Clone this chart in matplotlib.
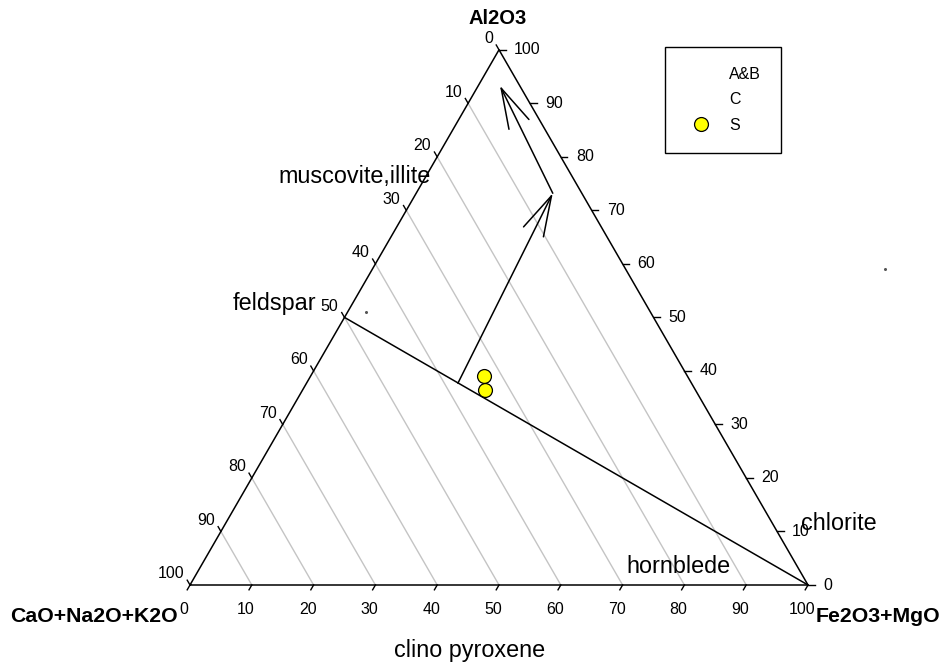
import numpy as np
import matplotlib.pyplot as plt
from matplotlib.lines import Line2D

plt.rcParams['font.family'] = ['Liberation Sans', 'DejaVu Sans']

# 三元图数据 (CaO+Na2O+K2O, Fe2O3+MgO, Al2O3)
tick_vals = np.arange(0, 101, 10)

s_cao = [33.0, 34.0]
s_fe = [28.0, 29.5]
s_al = [39.0, 36.5]

ab_cao = [46.0]
ab_fe = [3.0]
ab_al = [51.0]

c_cao = [-42.0]
c_fe = [83.0]
c_al = [59.0]

# feldspar -> Fe2O3+MgO 连线
tie_cao = [50.0, 0.0]
tie_fe = [0.0, 100.0]
tie_al = [50.0, 0.0]

# 箭头路径
arr_cao = [37.8, 4.7, 3.2]
arr_fe = [24.5, 22.1, 3.5]
arr_al = [37.7, 73.2, 93.3]

H = np.sqrt(3) / 2


def tern(cao, fe, al):
    cao, fe, al = np.asarray(cao, float), np.asarray(fe, float), np.asarray(al, float)
    tot = cao + fe + al
    return fe / tot + 0.5 * al / tot, H * al / tot


# 画布：三角形边长 618 像素
W, Hpx = 946, 670
side = 618.0
x0, y0 = 190.0, 585.0
fig = plt.figure(figsize=(W / 100, Hpx / 100), dpi=100)
ax = fig.add_axes([0, 0, 1, 1])
ax.set_xlim(-x0 / side, (W - x0) / side)
ax.set_ylim(-(Hpx - y0) / side, y0 / side)
ax.axis('off')


def px(x, y):
    return (x - x0) / side, (y0 - y) / side


# 网格线（CaO 等值线）
for v in tick_vals[1:-1]:
    gx, gy = tern([v, v], [100 - v, 0], [0, 100 - v])
    ax.plot(gx, gy, color='#c4c4c4', lw=1.0, zorder=1)

# 三角形
tx, ty = tern([100, 0, 0, 100], [0, 100, 0, 0], [0, 0, 100, 0])
ax.plot(tx, ty, color='black', lw=1.1, zorder=3)

# 刻度
tl = 0.009
fs_tick = 11.5
for v in tick_vals:
    # 左边 CaO
    lx, ly = tern(v, 0, 100 - v)
    ax.plot([lx, lx - 0.5 * tl], [ly, ly + H * tl], color='black', lw=1, zorder=3)
    ax.annotate(str(v), (lx, ly), xytext=(-6, 11), textcoords='offset pixels',
                ha='right', va='center', fontsize=fs_tick)
    # 右边 Al2O3
    rx, ry = tern(0, 100 - v, v)
    ax.plot([rx, rx + tl * 1.2], [ry, ry], color='black', lw=1, zorder=3)
    ax.annotate(str(v), (rx, ry), xytext=(15, 0), textcoords='offset pixels',
                ha='left', va='center', fontsize=fs_tick)
    # 底边 Fe2O3+MgO
    bx, by = tern(100 - v, v, 0)
    ax.plot([bx, bx - 0.5 * tl], [by, by - H * tl], color='black', lw=1, zorder=3)
    ax.annotate(str(v), (bx, by), xytext=(-6, -25), textcoords='offset pixels',
                ha='center', va='center', fontsize=fs_tick)

# 连线与箭头
lx, ly = tern(tie_cao, tie_fe, tie_al)
ax.plot(lx, ly, color='black', lw=1.1, zorder=3)

ax_, ay_ = tern(arr_cao, arr_fe, arr_al)
for i in range(len(ax_) - 1):
    ax.annotate('', xy=(ax_[i + 1], ay_[i + 1]), xytext=(ax_[i], ay_[i]),
                arrowprops=dict(arrowstyle='->,head_length=29,head_width=8',
                                mutation_scale=1, color='black', lw=1.1,
                                shrinkA=0, shrinkB=0), zorder=3)

# 数据点
px_, py_ = tern(ab_cao, ab_fe, ab_al)
ax.plot(px_, py_, 'o', color='#555555', ms=1.2, zorder=4)
px_, py_ = tern(c_cao, c_fe, c_al)
ax.plot(px_, py_, 'o', color='#555555', ms=1.2, zorder=4)
px_, py_ = tern(s_cao, s_fe, s_al)
ax.plot(px_, py_, 'o', mfc='yellow', mec='black', mew=0.9, ms=10, zorder=5)

# 顶点标签
ax.text(*px(498, 18), 'Al2O3', ha='center', va='center', fontsize=14.5, fontweight='bold')
ax.text(*px(178, 616), 'CaO+Na2O+K2O', ha='right', va='center', fontsize=15.3, fontweight='bold')
ax.text(*px(816, 616), 'Fe2O3+MgO', ha='left', va='center', fontsize=15.3, fontweight='bold')

# 矿物标签
fs_lab = 16.8
ax.text(*px(278, 183), 'muscovite,illite', ha='left', va='baseline', fontsize=fs_lab)
ax.text(*px(233, 310), 'feldspar', ha='left', va='baseline', fontsize=fs_lab)
ax.text(*px(626, 573), 'hornblede', ha='left', va='baseline', fontsize=fs_lab)
ax.text(*px(801, 530), 'chlorite', ha='left', va='baseline', fontsize=fs_lab)
ax.text(*px(470, 657), 'clino pyroxene', ha='center', va='baseline', fontsize=fs_lab)

# 图例
handles = [Line2D([], [], ls='none', marker=None),
           Line2D([], [], ls='none', marker=None),
           Line2D([], [], ls='none', marker='o', mfc='yellow', mec='black', mew=0.9, ms=10)]
leg = ax.legend(handles, ['A&B', 'C', 'S'], loc='upper left',
                bbox_to_anchor=(665 / W, 1 - 47 / Hpx), bbox_transform=fig.transFigure,
                fontsize=11.5, frameon=True, fancybox=False, borderpad=1.25,
                handlelength=2.0, handletextpad=0.75, labelspacing=0.65,
                borderaxespad=0, framealpha=1)
leg.get_frame().set_edgecolor('black')
leg.get_frame().set_linewidth(1.0)

fig.savefig('out.png', dpi=100)
plt.close(fig)
